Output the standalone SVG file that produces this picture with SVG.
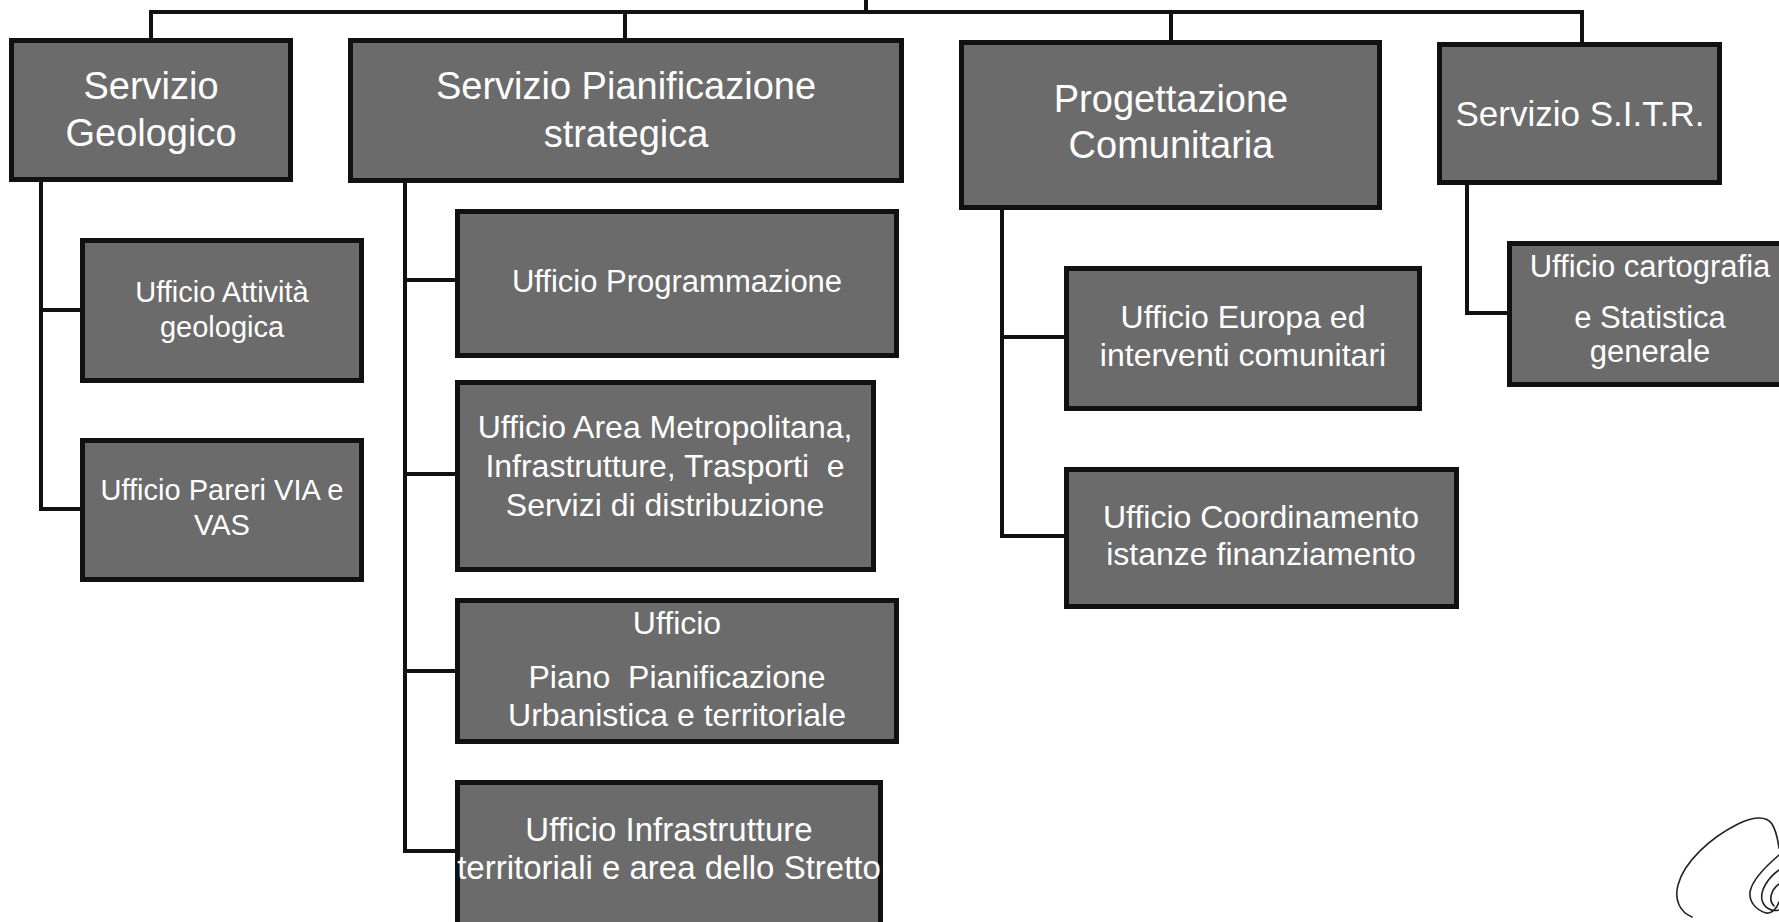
<svg xmlns="http://www.w3.org/2000/svg" width="1779" height="922" viewBox="0 0 1779 922">
<style>
  .box { fill: #6b6b6b; stroke: #111; stroke-width: 5; }
  .conn { stroke: #111; stroke-width: 4; fill: none; stroke-linecap: square; }
  text { font-family: "Liberation Sans", Arial, sans-serif; fill: #fff; text-anchor: middle; white-space: pre; }
  .h { font-size: 38px; }
  .s29 { font-size: 29px; }
  .s31 { font-size: 31px; }
  .s32 { font-size: 32px; }
  .s33 { font-size: 33px; }
  .sig { fill: none; stroke: #222; stroke-width: 1.6; stroke-linecap: round; stroke-linejoin: round; }
</style>
<rect x="0" y="0" width="1779" height="922" fill="#fff"/>
<g id="connectors">
  <path class="conn" d="M866 0 V12 M151 12 H1582 M151 12 V38 M625 12 V38 M1171 12 V40 M1582 12 V42"/>
  <path class="conn" d="M41 182 V509 H80 M41 310 H80"/>
  <path class="conn" d="M405 183 V851 H455 M405 280 H455 M405 474 H455 M405 671 H455"/>
  <path class="conn" d="M1002 210 V536 H1064 M1002 337 H1064"/>
  <path class="conn" d="M1467 185 V313 H1507"/>
</g>
<g id="servizio-geologico">
  <rect class="box" x="11.5" y="40.5" width="279" height="139"/>
  <text class="h" x="151" y="99">Servizio</text>
  <text class="h" x="151" y="146">Geologico</text>
</g>
<g id="servizio-pianificazione">
  <rect class="box" x="350.5" y="40.5" width="551" height="140"/>
  <text class="h" x="626" y="99">Servizio Pianificazione</text>
  <text class="h" x="626" y="147">strategica</text>
</g>
<g id="progettazione-comunitaria">
  <rect class="box" x="961.5" y="42.5" width="418" height="165"/>
  <text class="h" x="1171" y="112">Progettazione</text>
  <text class="h" x="1171" y="158">Comunitaria</text>
</g>
<g id="servizio-sitr">
  <rect class="box" x="1439.5" y="44.5" width="280" height="138"/>
  <text class="h" x="1580" y="126" style="font-size:35px">Servizio S.I.T.R.</text>
</g>
<g id="ufficio-attivita">
  <rect class="box" x="82.5" y="240.5" width="279" height="140"/>
  <text class="s29" x="222" y="302">Ufficio Attività</text>
  <text class="s29" x="222" y="337">geologica</text>
</g>
<g id="ufficio-pareri">
  <rect class="box" x="82.5" y="440.5" width="279" height="139"/>
  <text class="s29" x="222" y="500">Ufficio Pareri VIA e</text>
  <text class="s29" x="222" y="535">VAS</text>
</g>
<g id="ufficio-programmazione">
  <rect class="box" x="457.5" y="211.5" width="439" height="144"/>
  <text class="s31" x="677" y="292">Ufficio Programmazione</text>
</g>
<g id="ufficio-area-metropolitana">
  <rect class="box" x="457.5" y="382.5" width="416" height="187"/>
  <text class="s32" x="665" y="438">Ufficio Area Metropolitana,</text>
  <text class="s32" x="665" y="477">Infrastrutture, Trasporti  e</text>
  <text class="s32" x="665" y="516">Servizi di distribuzione</text>
</g>
<g id="ufficio-piano">
  <rect class="box" x="457.5" y="600.5" width="439" height="141"/>
  <text class="s32" x="677" y="634">Ufficio</text>
  <text class="s32" x="677" y="688">Piano  Pianificazione</text>
  <text class="s32" x="677" y="726">Urbanistica e territoriale</text>
</g>
<g id="ufficio-infrastrutture">
  <rect class="box" x="457.5" y="782.5" width="423" height="150"/>
  <text class="s33" x="669" y="841">Ufficio Infrastrutture</text>
  <text class="s33" x="669" y="879">territoriali e area dello Stretto</text>
</g>
<g id="ufficio-europa">
  <rect class="box" x="1066.5" y="268.5" width="353" height="140"/>
  <text class="s32" x="1243" y="328">Ufficio Europa ed</text>
  <text class="s32" x="1243" y="366">interventi comunitari</text>
</g>
<g id="ufficio-coordinamento">
  <rect class="box" x="1066.5" y="469.5" width="390" height="137"/>
  <text class="s32" x="1261" y="528">Ufficio Coordinamento</text>
  <text class="s32" x="1261" y="565">istanze finanziamento</text>
</g>
<g id="ufficio-cartografia">
  <rect class="box" x="1509.5" y="243.5" width="290" height="141"/>
  <text class="s31" x="1650" y="277">Ufficio cartografia</text>
  <text class="s31" x="1650" y="328">e Statistica</text>
  <text class="s31" x="1650" y="362">generale</text>
</g>
<g id="signature">
  <path class="sig" d="M1692 917 C1680 912 1674 900 1678 885 C1684 862 1710 838 1738 824 C1752 817 1766 815 1772 824 C1777 832 1778 842 1779 848"/>
  <path class="sig" d="M1779 855 C1766 866 1752 880 1750 892 C1749 902 1756 910 1766 913 C1772 914 1777 908 1779 902 M1779 870 C1768 878 1760 890 1762 900 C1764 908 1772 912 1779 910 M1779 884 C1771 890 1768 900 1774 906"/>
</g>
</svg>
